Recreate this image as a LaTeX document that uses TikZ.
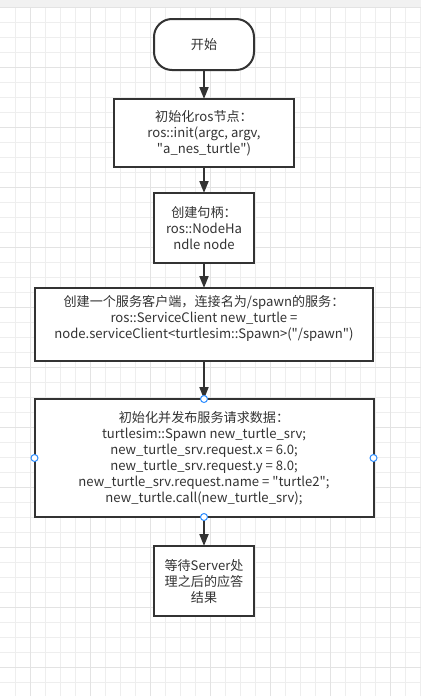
\documentclass[tikz,border=0pt]{standalone}
\usepackage{fontspec}
\newfontfamily\cjkfont{Noto Sans CJK SC}
\usetikzlibrary{positioning,arrows.meta}
\definecolor{gridlight}{HTML}{EEEEEE}
\definecolor{griddark}{HTML}{E3E3E3}
\definecolor{topband}{HTML}{F1F1F1}
\definecolor{inkgray}{HTML}{333333}
\definecolor{handleblue}{HTML}{2B8CFF}

\begin{document}
\begin{tikzpicture}[x=1pt,y=-1pt,>={Triangle[length=12pt,width=9pt]}]

    \tikzstyle{proc} = [draw=inkgray, line width=2pt, rectangle, fill=white, minimum height=70pt, minimum width=100pt, inner sep=2pt, outer sep=0pt, align=center, text=inkgray, font=\cjkfont\fontsize{13.1}{16}\selectfont];
    \tikzstyle{term} = [proc, rounded corners=18pt, minimum height=51pt];
    \tikzstyle{flow} = [->, draw=inkgray, line width=2pt];
    \tikzstyle{handle} = [draw=handleblue, fill=white, line width=1pt, circle, minimum size=7pt, inner sep=0pt];

    \useasboundingbox (0,0) rectangle (421,696);
    \fill[white] (0,0) rectangle (421,696);
    % grid
    \foreach \gx in {15,30,...,420}
        \draw[gridlight, line width=1pt] (\gx,6.5) -- (\gx,696);
    \foreach \gy in {7,22,...,696}
        \draw[gridlight, line width=1pt] (0,\gy) -- (421,\gy);
    \foreach \gx in {30,90,...,390}
        \draw[griddark, line width=1pt] (\gx,6.5) -- (\gx,696);
    \foreach \gy in {7,67,...,667}
        \draw[griddark, line width=1pt] (0,\gy) -- (421,\gy);
    \fill[topband] (0,0) rectangle (421,6.5);

    \node[term] (start) at (204,44.5) {开始};
    \node[proc, minimum width=180pt, minimum height=68pt, below=29pt of start] (initros) {初始化ros节点：\\ros::init(argc, argv,\\"a\_nes\_turtle")};
    \node[proc, below=26pt of initros] (handle) {创建句柄：\\ros::NodeHa\\ndle node};
    \node[proc, minimum width=338pt, minimum height=73pt, below=25pt of handle] (client) {创建一个服务客户端，连接名为/spawn的服务：\\ros::ServiceClient new\_turtle =\\node.serviceClient<turtlesim::Spawn>("/spawn")\\ \mbox{}};
    \node[proc, minimum width=339pt, minimum height=118pt, below=38pt of client] (pubreq) {初始化并发布服务请求数据：\\turtlesim::Spawn new\_turtle\_srv;\\new\_turtle\_srv.request.x = 6.0;\\new\_turtle\_srv.request.y = 8.0;\\new\_turtle\_srv.request.name = "turtle2";\\new\_turtle.call(new\_turtle\_srv);};
    \node[proc, below=29pt of pubreq] (wait) {等待Server处\\理之后的应答\\结果};

    \draw[flow] (start) -- (initros);
    \draw[flow] (initros) -- (handle);
    \draw[flow] (handle) -- (client);
    \draw[flow] (client) -- (pubreq);
    \draw[flow] (pubreq) -- (wait);

    % selection handles
    \node[handle] (hn) at (pubreq.north) {};
    \node[handle] (hs) at (pubreq.south) {};
    \node[handle] (hw) at (pubreq.west) {};
    \node[handle] (he) at (pubreq.east) {};

\end{tikzpicture}
\end{document}
